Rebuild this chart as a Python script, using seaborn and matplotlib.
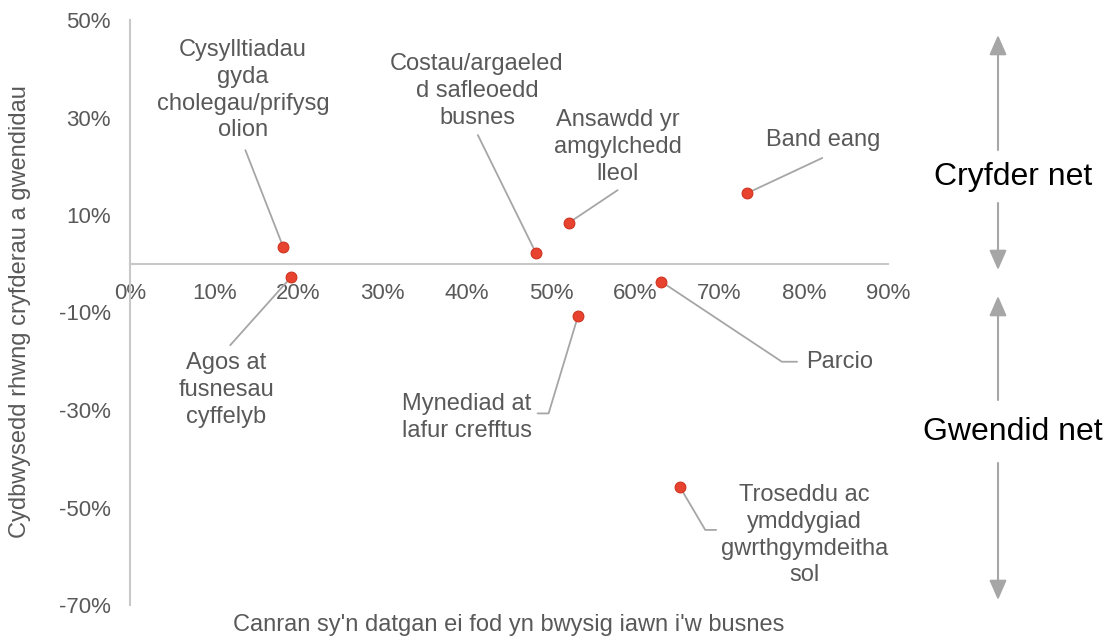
import matplotlib
matplotlib.use("Agg")
import matplotlib.pyplot as plt
import seaborn as sns
import pandas as pd
from matplotlib.ticker import PercentFormatter, MultipleLocator

sns.set_theme(style="white")
plt.rcParams['font.family'] = ['Liberation Sans', 'DejaVu Sans']
plt.rcParams['axes.unicode_minus'] = False

# ---- data ----
labels = [
    "Cysylltiadau\ngyda\ncholegau/prifysg\nolion",
    "Agos at\nfusnesau\ncyffelyb",
    "Costau/argaeled\nd safleoedd\nbusnes",
    "Ansawdd yr\namgylchedd\nlleol",
    "Band eang",
    "Mynediad at\nlafur crefftus",
    "Parcio",
    "Troseddu ac\nymddygiad\ngwrthgymdeitha\nsol",
]
pwysig = [0.182, 0.191, 0.482, 0.521, 0.733, 0.532, 0.631, 0.653]
cydbwysedd = [0.034, -0.028, 0.022, 0.084, 0.145, -0.107, -0.037, -0.458]

# label layout (text centre, leader path from text towards point)
label_pos = [(0.134, 0.356), (0.114, -0.259), (0.412, 0.354), (0.579, 0.239),
             (0.823, 0.254), (0.400, -0.315), (0.842, -0.201), (0.801, -0.557)]
leader_from = [
    [(0.137, 0.233)],
    [(0.119, -0.167)],
    [(0.413, 0.264)],
    [(0.579, 0.151)],
    [(0.822, 0.217)],
    [(0.484, -0.307), (0.497, -0.307)],
    [(0.792, -0.201), (0.774, -0.201)],
    [(0.696, -0.546), (0.683, -0.546)],
]

df = pd.DataFrame({"label": labels, "x": pwysig, "y": cydbwysedd})

grey_txt = "#595959"
grey_line = "#A6A6A6"
axis_col = "#C8C8C8"
red = "#E8432E"

fig = plt.figure(figsize=(11.17, 6.41), dpi=100)
ax = fig.add_axes([130 / 1117, 1 - 605 / 641, 758 / 1117, 585 / 641])

# leader lines
for (px, py), path in zip(zip(pwysig, cydbwysedd), leader_from):
    xs = [p[0] for p in path] + [px]
    ys = [p[1] for p in path] + [py]
    ax.plot(xs, ys, color=grey_line, lw=1.3, zorder=2)

sns.scatterplot(data=df, x="x", y="y", ax=ax, color=red, edgecolor="#D0321F",
                linewidth=0.8, s=60, zorder=3, legend=False)

for lab, (tx, ty) in zip(labels, label_pos):
    ax.text(tx, ty, lab, ha="center", va="center", fontsize=17,
            color=grey_txt, linespacing=1.28, zorder=4)

ax.set_xlim(0, 0.9)
ax.set_ylim(-0.7, 0.5)
ax.xaxis.set_major_locator(MultipleLocator(0.1))
ax.set_yticks([0.5, 0.3, 0.1, -0.1, -0.3, -0.5, -0.7])
ax.xaxis.set_major_formatter(PercentFormatter(1.0, decimals=0))
ax.yaxis.set_major_formatter(PercentFormatter(1.0, decimals=0))

for side in ["top", "right"]:
    ax.spines[side].set_visible(False)
ax.spines["bottom"].set_position(("data", 0))
ax.spines["bottom"].set_color(axis_col)
ax.spines["left"].set_color(axis_col)
ax.spines["bottom"].set_linewidth(1.5)
ax.spines["left"].set_linewidth(1.5)
ax.tick_params(axis="x", length=0, pad=14, labelsize=16, labelcolor=grey_txt)
ax.tick_params(axis="y", length=0, pad=14, labelsize=16, labelcolor=grey_txt)

ax.set_xlabel("")
ax.set_ylabel("")
fig.text(509 / 1117, 1 - 625 / 641, "Canran sy'n datgan ei fod yn bwysig iawn i'w busnes",
         ha="center", va="center", fontsize=17, color=grey_txt)
fig.text(20 / 1117, 1 - 312 / 641, "Cydbwysedd rhwng cryfderau a gwendidau",
         ha="center", va="center", rotation=90, fontsize=17, color=grey_txt)

# side arrows
ax_x = 998 / 1117
arrow_kw = dict(arrowstyle="-|>,head_length=0.8,head_width=0.35", color=grey_line,
                lw=1.5, mutation_scale=15, shrinkA=0, shrinkB=0)
for start, tip in [(150, 35), (203, 270), (400, 296), (463, 600)]:
    fig.add_artist(matplotlib.patches.FancyArrowPatch(
        (ax_x, 1 - start / 641), (ax_x, 1 - tip / 641),
        transform=fig.transFigure, **arrow_kw))
fig.text(1013 / 1117, 1 - 177 / 641, "Cryfder net", ha="center", va="center",
         fontsize=23, color="black")
fig.text(1013 / 1117, 1 - 432 / 641, "Gwendid net", ha="center", va="center",
         fontsize=23, color="black")

fig.savefig("out.png", dpi=100)
